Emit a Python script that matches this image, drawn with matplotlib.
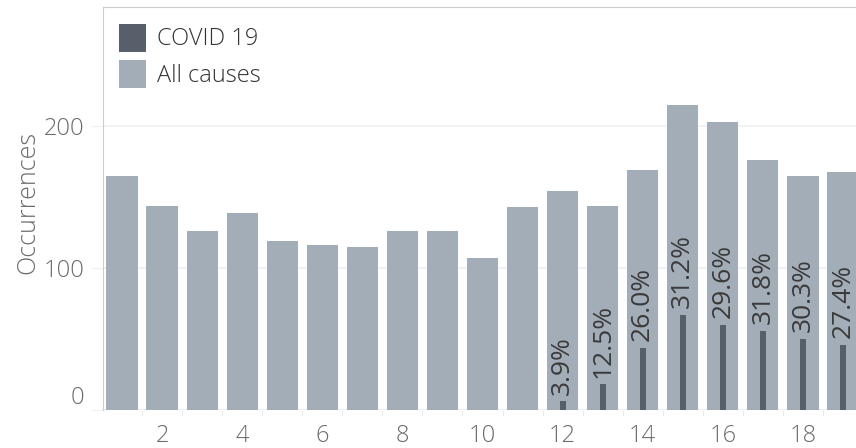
import matplotlib
matplotlib.use("Agg")
import matplotlib.pyplot as plt
import matplotlib.transforms as mtransforms
import numpy as np

weeks = list(range(1, 20))
all_causes = [165, 144, 126, 139, 119, 116, 115, 126, 126, 107, 143, 154, 144, 169, 215, 203, 176, 165, 168]
covid_weeks = [12, 13, 14, 15, 16, 17, 18, 19]
covid = [6, 18, 44, 67, 60, 56, 50, 46]
x_ticks = [2, 4, 6, 8, 10, 12, 14, 16, 18]
y_ticks = [0, 100, 200]

plt.rcParams['font.family'] = ['Open Sans', 'DejaVu Sans']
grey_txt = '#6b6b6b'

fig = plt.figure(figsize=(8.56, 4.48), dpi=100)
ax = fig.add_axes([102.5 / 856, 1 - 410 / 448, 1 - 102.5 / 856, (410 - 7) / 448])

ax.bar(weeks, all_causes, width=0.78, color='#a3adb8', label='All causes', zorder=2)
ax.bar(covid_weeks, covid, width=0.15, color='#575f6b', label='COVID 19', zorder=3)

for w, c in zip(covid_weeks, covid):
    tot = all_causes[weeks.index(w)]
    ax.annotate(f"{100 * c / tot:.1f}%", (w, c), xytext=(0, 5), textcoords='offset points',
                rotation=90, ha='center', va='bottom', fontsize=19, color='#3a3a3a', zorder=4)

ax.set_xlim(0.5125, 19.325)
ax.set_ylim(0, 284)
ax.set_xticks(x_ticks)
ax.set_xticks(np.arange(1.5, 19.5, 1), minor=True)
ax.set_yticks(y_ticks)
ax.tick_params(axis='both', which='major', labelsize=17, labelcolor=grey_txt)
ax.tick_params(axis='x', which='major', length=0, pad=10)
ax.tick_params(axis='x', which='minor', length=4, color='#e8e8e8')
ax.tick_params(axis='y', length=9, color='#f0f0f0', pad=4)
for lab in ax.get_xticklabels() + ax.get_yticklabels():
    lab.set_fontweight('light')
# zero label sits a bit above the baseline
zero_lab = ax.get_yticklabels()[0]
zero_lab.set_transform(zero_lab.get_transform() + mtransforms.ScaledTranslation(0, 11 / 72, fig.dpi_scale_trans))

ax.grid(axis='y', color='#f0f0f0', linewidth=1.2, zorder=0)
ax.axhline(0, color='#e0e0e0', linewidth=1.2, zorder=1)

for s in ['right', 'bottom']:
    ax.spines[s].set_visible(False)
for s in ['left', 'top']:
    ax.spines[s].set_color('#cccccc')

ax.set_ylabel('Occurrences', fontsize=18, color=grey_txt, fontweight='light')
ax.yaxis.set_label_coords(-(102.5 - 40) / (856 - 102.5), (410 - 202) / 403)

h, l = ax.get_legend_handles_labels()
ax.legend(h[::-1], l[::-1], loc='upper left', frameon=False, prop={'size': 17, 'weight': 'light'},
          handlelength=1.15, handleheight=1.45, handletextpad=0.45, labelspacing=0.35,
          borderaxespad=0.4, borderpad=0.3, labelcolor='#333333')

fig.savefig('out.png', dpi=100)
